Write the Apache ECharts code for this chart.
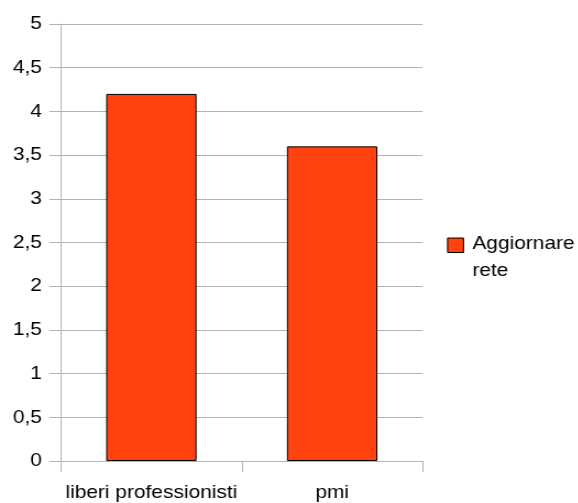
<!DOCTYPE html>
<html>
<head>
<meta charset="utf-8">
<title>Aggiornare rete</title>
<script src="https://cdn.jsdelivr.net/npm/echarts@6/dist/echarts.min.js"></script>
<style>
  html, body { margin: 0; padding: 0; background: #ffffff; overflow: hidden; }
  /* the chart is laid out on a narrower canvas and widened horizontally */
  #chart { width: 525.45px; height: 503px; transform: scaleX(1.1); transform-origin: 0 0; }
</style>
</head>
<body>
<div id="chart"></div>
<script>
// Categories and values
const categories = ['liberi professionisti', 'pmi'];
const seriesName = 'Aggiornare rete';
const aggiornareRete = [4.2, 3.6];
const yTicks = [0, 0.5, 1, 1.5, 2, 2.5, 3, 3.5, 4, 4.5, 5];

const FONT = "'Liberation Sans', Arial, sans-serif";
const GRID_COLOR = '#b3b3b3';

// legend swatch sits beside the first text line: a square plus an empty
// move-to point that stretches the icon box down to the second line
const SWATCH = 'path://M0,0L16,0L16,16L0,16Z M0,43L0,43';

const chart = echarts.init(document.getElementById('chart'), null, { renderer: 'canvas' });

chart.setOption({
  animation: false,
  backgroundColor: '#ffffff',
  textStyle: { fontFamily: FONT },
  grid: { left: 55.45, right: 140.9, top: 24, bottom: 42, containLabel: false },
  legend: {
    data: [seriesName],
    orient: 'vertical',
    left: 406.4,
    top: 230.5,
    padding: 0,
    itemWidth: 14.5,
    itemHeight: 43,
    icon: SWATCH,
    itemStyle: { borderColor: '#000000', borderWidth: 1 },
    formatter: name => name.replace(' ', '\n'),
    textStyle: {
      fontFamily: FONT,
      fontSize: 19,
      color: '#000000',
      lineHeight: 27,
      padding: [0, 0, 0, 3]
    }
  },
  xAxis: {
    type: 'category',
    data: categories,
    boundaryGap: true,
    axisLine: { show: true, lineStyle: { color: GRID_COLOR, width: 1 } },
    axisTick: { show: true, alignWithLabel: false, length: 11, lineStyle: { color: GRID_COLOR } },
    axisLabel: { fontFamily: FONT, fontSize: 19, color: '#000000', margin: 22, interval: 0 }
  },
  yAxis: {
    type: 'value',
    min: yTicks[0],
    max: yTicks[yTicks.length - 1],
    interval: yTicks[1] - yTicks[0],
    axisLine: { show: true, lineStyle: { color: GRID_COLOR, width: 1 } },
    axisTick: { show: true, length: 10.4, lineStyle: { color: GRID_COLOR } },
    splitLine: { show: true, lineStyle: { color: GRID_COLOR, width: 1 } },
    axisLabel: {
      fontFamily: FONT,
      fontSize: 19,
      color: '#000000',
      margin: 17.3,
      formatter: v => String(v).replace('.', ',')
    }
  },
  series: [{
    name: seriesName,
    type: 'bar',
    data: aggiornareRete,
    barWidth: '50%',
    itemStyle: { color: '#ff420e', borderColor: '#000000', borderWidth: 1 }
  }]
});
</script>
</body>
</html>
